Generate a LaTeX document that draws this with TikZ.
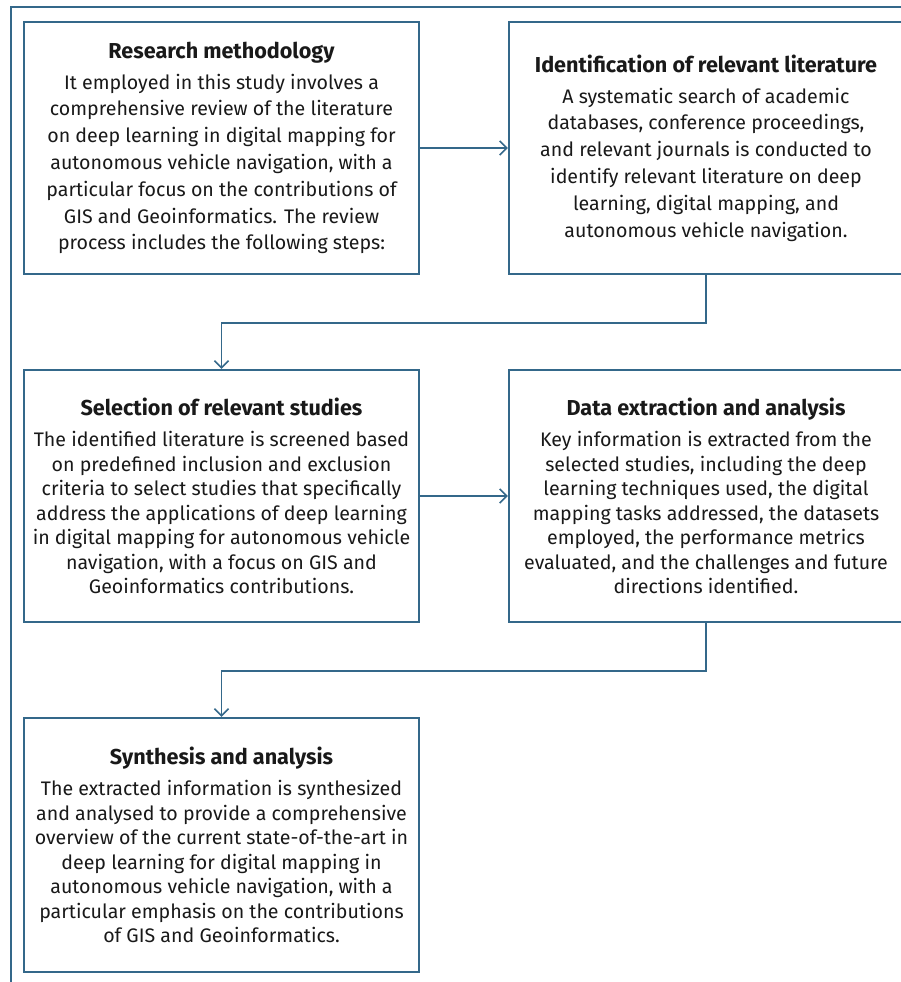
\documentclass[tikz,border=0pt]{standalone}
\usepackage{fontspec}
\setmainfont{Fira Sans}
\usetikzlibrary{arrows.meta}
\definecolor{frameblue}{RGB}{52,104,138}
\tikzset{
  box/.style={draw=frameblue, line width=2.4pt, rectangle, align=center, inner sep=0pt,
    font=\fontsize{19.6}{26.8}\selectfont, text=black!90},
  tight/.style={font=\fontsize{19.6}{24.5}\selectfont},
  lbox/.style={box, minimum width=395pt, minimum height=252pt},
  rbox/.style={box, minimum width=394pt, minimum height=252pt},
  arr/.style={draw=frameblue, line width=1.6pt, -{Straight Barb[length=7pt,width=14pt,line width=1.6pt]}}
}
\newcommand{\ttlx}[2][4pt]{{\fontsize{21.6}{26.8}\selectfont\bfseries #2}\\[#1]}
\begin{document}
\begin{tikzpicture}[x=1pt,y=-1pt]
\useasboundingbox (0,0) rectangle (901,982);
\fill[white] (0,0) rectangle (901,982);
% outer frame
\coordinate (ftop) at (920,7);
\coordinate (fcorner) at (11,7);
\coordinate (fbot) at (11,990);
\draw[frameblue, line width=1.8pt] (ftop) -- (fcorner) -- (fbot);

\node[lbox] (b1) at (221.5,148) {\ttlx{Research methodology}
It employed in this study involves a\\
comprehensive review of the literature\\
on deep learning in digital mapping for\\
autonomous vehicle navigation, with a\\
particular focus on the contributions of\\
GIS and Geoinformatics. The review\\
process includes the following steps:};

\node[rbox] (b2) at (706,148) {\ttlx{Identification of relevant literature}
A systematic search of academic\\
databases, conference proceedings,\\
and relevant journals is conducted to\\
identify relevant literature on deep\\
learning, digital mapping, and\\
autonomous vehicle navigation.};

\node[lbox, tight] (b3) at (221.5,496) {\ttlx[7pt]{Selection of relevant studies}
The identified literature is screened based\\
on predefined inclusion and exclusion\\
criteria to select studies that specifically\\
address the applications of deep learning\\
in digital mapping for autonomous vehicle\\
navigation, with a focus on GIS and\\
Geoinformatics contributions.};

\node[rbox, tight] (b4) at (706,496) {\ttlx[7pt]{Data extraction and analysis}
Key information is extracted from the\\
selected studies, including the deep\\
learning techniques used, the digital\\
mapping tasks addressed, the datasets\\
employed, the performance metrics\\
evaluated, and the challenges and future\\
directions identified.};

\node[lbox, tight, minimum height=254pt] (b5) at (221.5,845) {\ttlx[7pt]{Synthesis and analysis}
The extracted information is synthesized\\
and analysed to provide a comprehensive\\
overview of the current state-of-the-art in\\
deep learning for digital mapping in\\
autonomous vehicle navigation, with a\\
particular emphasis on the contributions\\
of GIS and Geoinformatics.};

\draw[arr] (b1.east) -- (b2.west);
\draw[arr] (b3.east) -- (b4.west);
\draw[arr] (b2.south) -- ++(0,48) -| (b3.north);
\draw[arr] (b4.south) -- ++(0,48) -| (b5.north);
\end{tikzpicture}
\end{document}
